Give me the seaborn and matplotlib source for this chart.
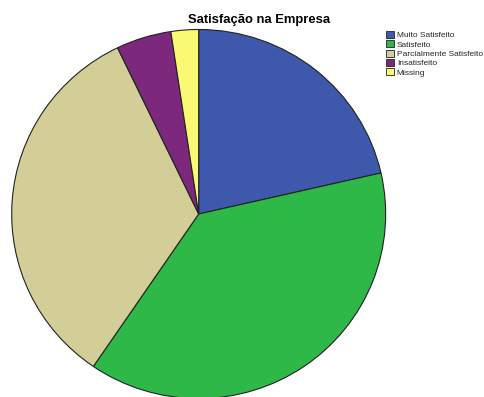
import matplotlib
matplotlib.use("Agg")
import matplotlib.pyplot as plt
from matplotlib.patches import Patch
import seaborn as sns

# Survey responses: company satisfaction
categories = ["Muito Satisfeito", "Satisfeito", "Parcialmente Satisfeito",
              "Insatisfeito", "Missing"]
counts = [9, 16, 14, 2, 1]
colors = ["#3E58AC", "#2EB848", "#D3CE97", "#7C287D", "#FBF873"]
title = "Satisfação na Empresa"

sns.set_theme(style="white")
plt.rcParams["font.family"] = ["Liberation Sans", "DejaVu Sans"]

fig = plt.figure(figsize=(4.85, 3.97), dpi=100)
fig.patch.set_facecolor("white")

# Pie axes placed so the disc fills the left part of the figure
ax = fig.add_axes([0.0241, -0.0038, 0.7711, 0.9295])
ax.pie(counts, colors=colors, startangle=90, counterclock=False, radius=1,
       wedgeprops=dict(edgecolor="#222222", linewidth=0.8))
ax.set_xlim(-1.0, 1.0)
ax.set_ylim(-1.0, 1.0)
ax.set_aspect("auto")
ax.axis("off")

fig.text(259 / 485, 1 - 20 / 397, title, ha="center", va="center",
         fontsize=9.4, fontweight="bold", color="black")

handles = [Patch(facecolor=c, edgecolor="#222222", linewidth=0.6) for c in colors]
leg = fig.legend(handles, categories, loc="upper left",
                 bbox_to_anchor=(386 / 485, 1 - 31 / 397),
                 frameon=False, fontsize=6.0, handlelength=1.0, handleheight=0.95,
                 handletextpad=0.3, labelspacing=0.1, borderpad=0, borderaxespad=0)

fig.savefig("out.png", dpi=100, facecolor="white")
